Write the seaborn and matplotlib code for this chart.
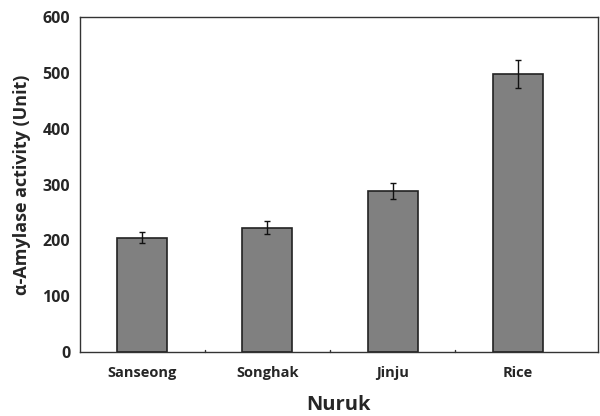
import matplotlib
matplotlib.use("Agg")
import matplotlib.pyplot as plt
import seaborn as sns
import pandas as pd

categories = ["Sanseong", "Songhak", "Jinju", "Rice"]
activity = [205, 223, 288, 498]
activity_sd = [10, 11, 14, 25]
y_ticks = [0, 100, 200, 300, 400, 500, 600]

sns.set_theme(style="white")
plt.rcParams["font.family"] = ["Open Sans", "DejaVu Sans"]

df = pd.DataFrame({"Nuruk": categories, "activity": activity, "sd": activity_sd})

fig = plt.figure(figsize=(6.0, 4.16), dpi=100)
ax = fig.add_axes([0.1333, 0.1538, 0.8634, 0.8052])

sns.barplot(data=df, x="Nuruk", y="activity", order=categories, color="#808080",
            saturation=1, width=0.4, edgecolor="#222222", linewidth=1.2,
            errorbar=None, ax=ax)
ax.errorbar(x=range(len(categories)), y=df["activity"], yerr=df["sd"], fmt="none",
            ecolor="#111111", elinewidth=1.0, capsize=2.5, capthick=1.0)

ax.set_ylim(0, 600)
ax.set_xlim(-0.5, 3.644)
ax.set_yticks(y_ticks)
ax.set_yticklabels([str(t) for t in y_ticks], fontsize=11.5, fontweight="bold")
ax.set_xticks(range(len(categories)))
ax.set_xticklabels(categories, fontsize=10.5, fontweight="bold")
ax.tick_params(axis="x", length=0, pad=10)
ax.tick_params(axis="y", length=0, pad=7)

# small inward ticks on the category boundaries
for b in [0.5, 1.5, 2.5]:
    ax.plot([b, b], [0, 4], color="#333333", lw=1.0, clip_on=False)

ax.set_xlabel("Nuruk", fontsize=14.5, fontweight="bold", labelpad=11)
ax.set_ylabel("α-Amylase activity (Unit)", fontsize=13, fontweight="bold", labelpad=8)

for s in ax.spines.values():
    s.set_color("#333333")
    s.set_linewidth(1.0)

fig.savefig("out.png", dpi=100, facecolor="white")
